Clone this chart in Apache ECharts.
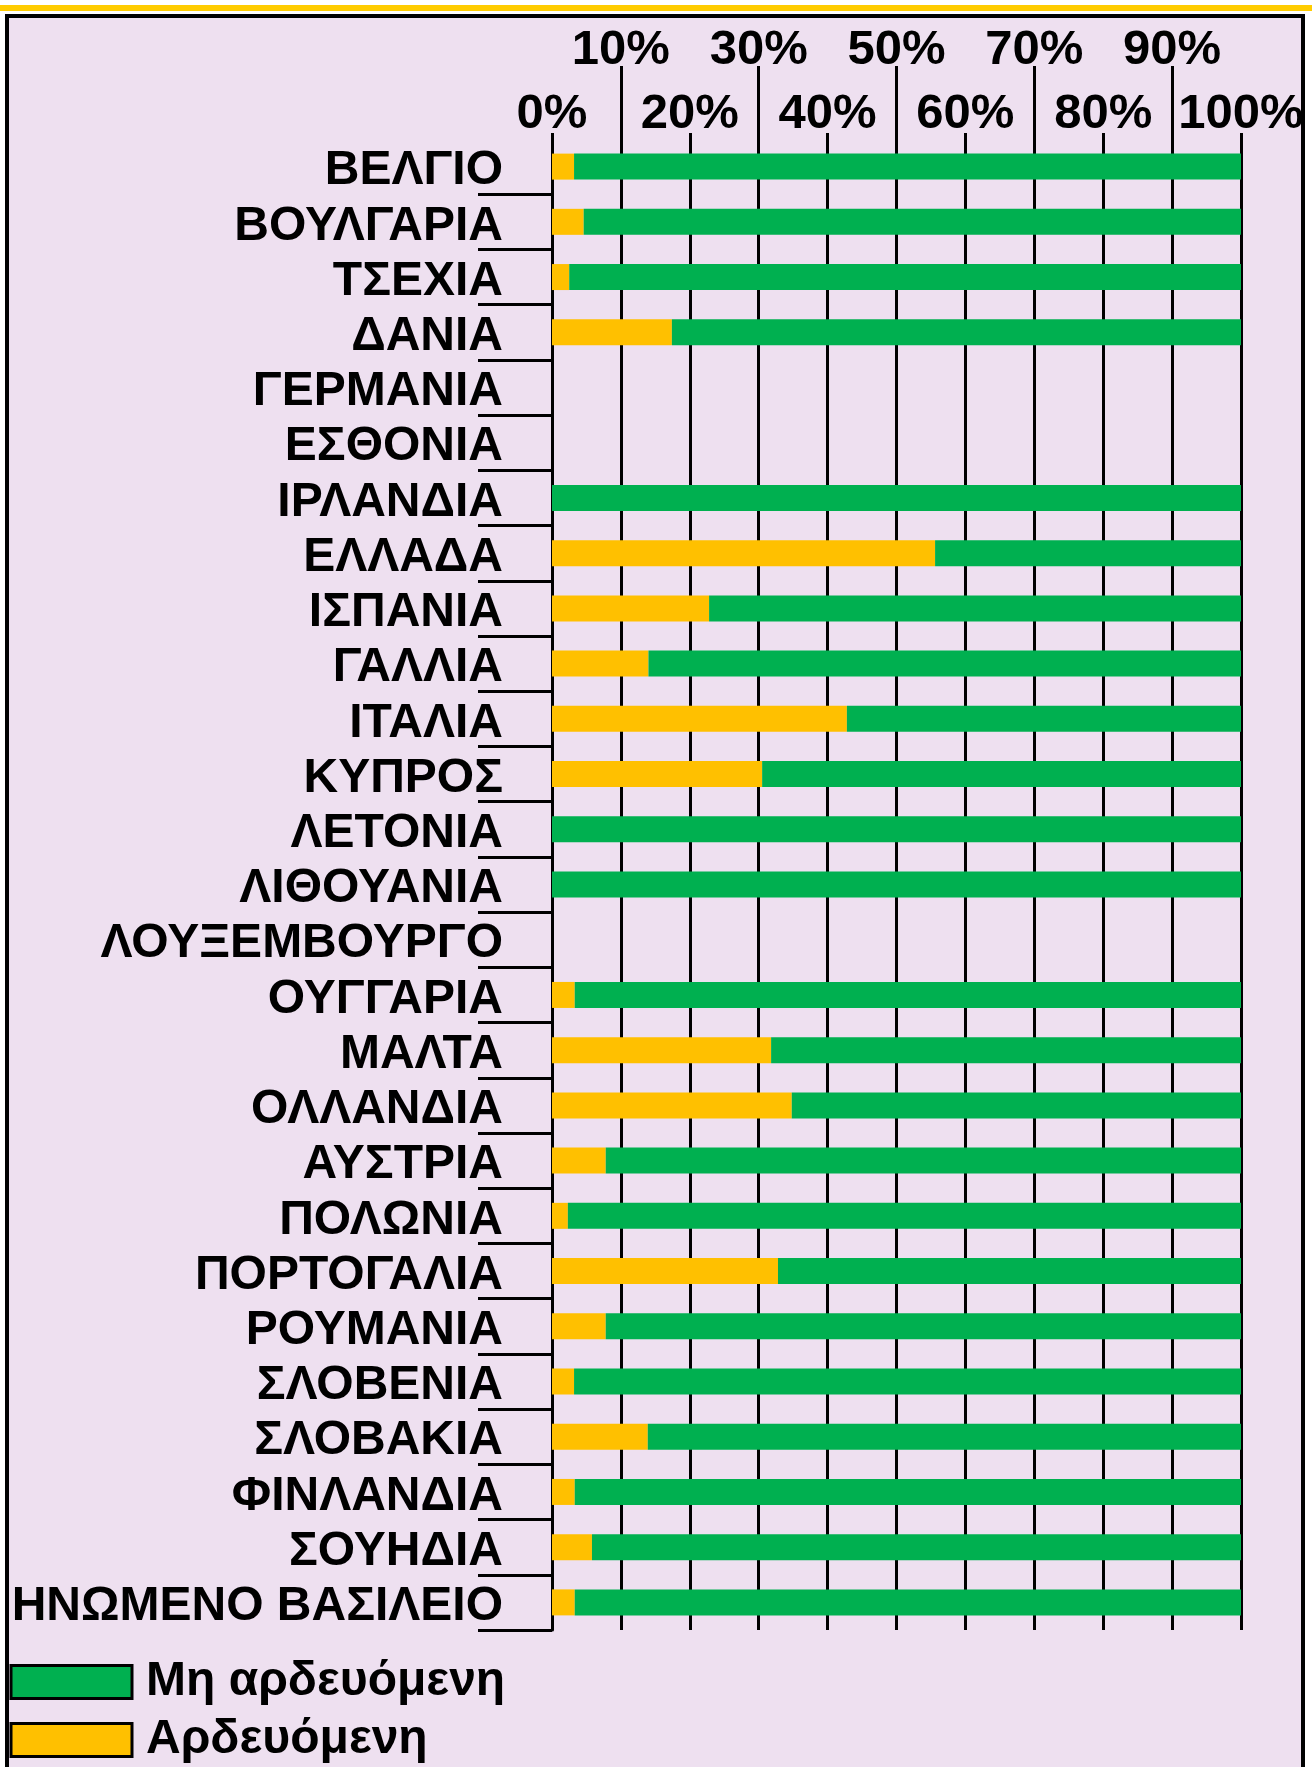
<!DOCTYPE html>
<html>
<head>
<meta charset="utf-8">
<script src="https://cdn.jsdelivr.net/npm/echarts@6/dist/echarts.min.js"></script>
<style>
  html, body { margin: 0; padding: 0; background: #ffffff; }
  #chart { width: 1312px; height: 1767px; }
</style>
</head>
<body>
<div id="chart"></div>
<script>
// Countries, top to bottom
const countries = [
  'ΒΕΛΓΙΟ', 'ΒΟΥΛΓΑΡΙΑ', 'ΤΣΕΧΙΑ', 'ΔΑΝΙΑ', 'ΓΕΡΜΑΝΙΑ', 'ΕΣΘΟΝΙΑ', 'ΙΡΛΑΝΔΙΑ',
  'ΕΛΛΑΔΑ', 'ΙΣΠΑΝΙΑ', 'ΓΑΛΛΙΑ', 'ΙΤΑΛΙΑ', 'ΚΥΠΡΟΣ', 'ΛΕΤΟΝΙΑ', 'ΛΙΘΟΥΑΝΙΑ',
  'ΛΟΥΞΕΜΒΟΥΡΓΟ', 'ΟΥΓΓΑΡΙΑ', 'ΜΑΛΤΑ', 'ΟΛΛΑΝΔΙΑ', 'ΑΥΣΤΡΙΑ', 'ΠΟΛΩΝΙΑ',
  'ΠΟΡΤΟΓΑΛΙΑ', 'ΡΟΥΜΑΝΙΑ', 'ΣΛΟΒΕΝΙΑ', 'ΣΛΟΒΑΚΙΑ', 'ΦΙΝΛΑΝΔΙΑ', 'ΣΟΥΗΔΙΑ',
  'ΗΝΩΜΕΝΟ ΒΑΣΙΛΕΙΟ'
];

// Share of irrigated area (%), null = no data
const irrigated = [
  3.2, 4.6, 2.5, 17.4, null, null, 0,
  55.6, 22.8, 14.0, 42.8, 30.5, 0, 0,
  null, 3.3, 31.8, 34.8, 7.8, 2.3,
  32.8, 7.8, 3.2, 13.9, 3.3, 5.8,
  3.3
];

// Share of non-irrigated area (%), null = no data
const nonIrrigated = [
  96.8, 95.4, 97.5, 82.6, null, null, 100,
  44.4, 77.2, 86.0, 57.2, 69.5, 100, 100,
  null, 96.7, 68.2, 65.2, 92.2, 97.7,
  67.2, 92.2, 96.8, 86.1, 96.7, 94.2,
  96.7
];

// Percentage ticks: even ones on the lower label row, odd ones on the upper row
const evenTicks = [0, 20, 40, 60, 80, 100];
const oddTicks = [10, 30, 50, 70, 90];

const seriesNames = ['Μη αρδευόμενη', 'Αρδευόμενη'];

const FONT = '"Liberation Sans", Arial, Helvetica, sans-serif';
const INK = '#000000';

const chart = echarts.init(document.getElementById('chart'), null, { renderer: 'canvas' });

const percentAxisBase = {
  type: 'value',
  position: 'top',
  min: 0,
  max: 100,
  interval: 10,
  axisLine: { show: false },
  splitLine: { show: true, lineStyle: { color: INK, width: 3 } }
};

chart.setOption({
  backgroundColor: '#EEE0F0',
  animation: false,
  graphic: [
    // white strip above the frame with the gold rule
    { type: 'rect', z: 100, shape: { x: 0, y: 0, width: 1312, height: 14 }, style: { fill: '#ffffff' } },
    { type: 'rect', z: 101, shape: { x: 0, y: 5, width: 1312, height: 6 }, style: { fill: '#FFCC00' } },
    { type: 'rect', z: 100, shape: { x: 0, y: 0, width: 5, height: 1767 }, style: { fill: '#ffffff' } },
    { type: 'rect', z: 100, shape: { x: 1305, y: 0, width: 7, height: 1767 }, style: { fill: '#ffffff' } },
    // chart frame
    { type: 'rect', z: 102, shape: { x: 7, y: 16, width: 1296, height: 1800 },
      style: { fill: 'none', stroke: INK, lineWidth: 4 } }
  ],
  grid: { left: 552, right: 71, top: 139, bottom: 137, containLabel: false },
  legend: {
    data: seriesNames,
    orient: 'vertical',
    left: 9.5,
    top: 1658,
    padding: 0,
    itemWidth: 121,
    itemHeight: 33,
    itemGap: 10,
    icon: 'rect',
    itemStyle: { borderColor: INK, borderWidth: 3 },
    textStyle: { fontFamily: FONT, fontWeight: 'bold', fontSize: 48, color: INK, padding: [0, 0, 0, 9] }
  },
  xAxis: [
    Object.assign({}, percentAxisBase, {
      axisTick: { show: true, customValues: evenTicks, length: 6, lineStyle: { color: INK, width: 3 } },
      axisLabel: {
        customValues: evenTicks, formatter: '{value}%', margin: 0,
        fontFamily: FONT, fontWeight: 'bold', fontSize: 49, color: INK
      }
    }),
    Object.assign({}, percentAxisBase, {
      axisTick: { show: true, customValues: oddTicks, length: 73, lineStyle: { color: INK, width: 3 } },
      axisLabel: {
        customValues: oddTicks, formatter: '{value}%', margin: 64,
        fontFamily: FONT, fontWeight: 'bold', fontSize: 49, color: INK
      }
    })
  ],
  yAxis: {
    type: 'category',
    data: countries,
    inverse: true,
    axisLine: { show: true, lineStyle: { color: INK, width: 3 } },
    axisTick: {
      show: true,
      length: 74,
      interval: function (index) { return index !== 0; },
      lineStyle: { color: INK, width: 3 }
    },
    axisLabel: {
      interval: 0,
      hideOverlap: false,
      margin: 49,
      verticalAlign: 'top',
      lineHeight: 9,
      fontFamily: FONT, fontWeight: 'bold', fontSize: 48, color: INK
    },
    splitLine: { show: false }
  },
  series: [
    {
      name: seriesNames[1],
      type: 'bar',
      stack: 'share',
      xAxisIndex: 0,
      barWidth: 26,
      itemStyle: { color: '#FFC000' },
      data: irrigated
    },
    {
      name: seriesNames[0],
      type: 'bar',
      stack: 'share',
      xAxisIndex: 0,
      barWidth: 26,
      itemStyle: { color: '#00B050' },
      data: nonIrrigated
    }
  ]
});
</script>
</body>
</html>
